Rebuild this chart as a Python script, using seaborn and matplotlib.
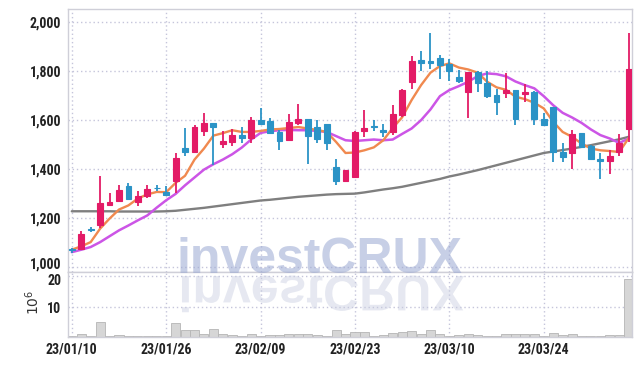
import matplotlib
matplotlib.use("Agg")
import matplotlib.pyplot as plt
import seaborn as sns
import numpy as np
import pandas as pd
from matplotlib.textpath import TextPath
from matplotlib.patches import PathPatch
from matplotlib.font_manager import FontProperties
from matplotlib.transforms import Affine2D, IdentityTransform, ScaledTranslation

# ---------------- data ----------------
dates = ["23/01/10", "23/01/11", "23/01/12", "23/01/13", "23/01/16", "23/01/17", "23/01/18",
         "23/01/19", "23/01/20", "23/01/25", "23/01/26", "23/01/27", "23/01/30", "23/01/31",
         "23/02/01", "23/02/02", "23/02/03", "23/02/06", "23/02/07", "23/02/08", "23/02/09",
         "23/02/10", "23/02/13", "23/02/14", "23/02/15", "23/02/16", "23/02/17", "23/02/20",
         "23/02/21", "23/02/22", "23/02/23", "23/02/24", "23/02/27", "23/02/28", "23/03/02",
         "23/03/03", "23/03/06", "23/03/07", "23/03/08", "23/03/09", "23/03/10", "23/03/13",
         "23/03/14", "23/03/15", "23/03/16", "23/03/17", "23/03/20", "23/03/21", "23/03/22",
         "23/03/23", "23/03/24", "23/03/27", "23/03/28", "23/03/29", "23/03/30", "23/03/31",
         "23/04/03", "23/04/04", "23/04/05", "23/04/06"]

open_ = [1070, 1073, 1153, 1169, 1251, 1266, 1328, 1264, 1288, 1321, 1305, 1350, 1486, 1469, 1555,
         1587, 1502, 1510, 1537, 1526, 1598, 1594, 1550, 1516, 1588, 1601, 1569, 1582, 1407, 1350,
         1366, 1554, 1573, 1558, 1550, 1618, 1755, 1843, 1839, 1850, 1826, 1773, 1714, 1794, 1750,
         1700, 1707, 1721, 1703, 1714, 1602, 1650, 1466, 1464, 1545, 1492, 1441, 1431, 1468, 1560]
high = [1075, 1144, 1160, 1369, 1302, 1333, 1343, 1308, 1333, 1332, 1328, 1462, 1568, 1580, 1628,
        1588, 1555, 1560, 1571, 1611, 1646, 1605, 1556, 1622, 1666, 1602, 1598, 1584, 1441, 1395,
        1555, 1639, 1598, 1584, 1662, 1725, 1861, 1881, 1952, 1864, 1846, 1802, 1796, 1800, 1800,
        1726, 1789, 1723, 1745, 1716, 1628, 1652, 1503, 1557, 1547, 1495, 1464, 1475, 1541, 1952]
low = [1055, 1068, 1140, 1159, 1247, 1262, 1276, 1248, 1279, 1310, 1290, 1302, 1452, 1466, 1533,
       1414, 1486, 1494, 1505, 1503, 1578, 1540, 1478, 1512, 1577, 1418, 1505, 1478, 1332, 1345,
       1362, 1530, 1554, 1530, 1537, 1612, 1724, 1798, 1809, 1768, 1759, 1748, 1605, 1714, 1690,
       1621, 1687, 1577, 1673, 1580, 1575, 1427, 1427, 1400, 1487, 1436, 1359, 1380, 1451, 1509]
close = [1066, 1132, 1150, 1260, 1264, 1312, 1277, 1290, 1316, 1319, 1294, 1445, 1469, 1570, 1586,
         1572, 1514, 1537, 1525, 1598, 1584, 1544, 1514, 1592, 1601, 1533, 1521, 1503, 1350, 1393,
         1550, 1568, 1571, 1550, 1622, 1721, 1839, 1833, 1833, 1823, 1800, 1759, 1794, 1751, 1697,
         1673, 1721, 1603, 1714, 1601, 1578, 1466, 1448, 1541, 1489, 1439, 1431, 1451, 1503, 1807]

ma_short = [1069, 1083, 1100, 1155, 1196, 1233, 1250, 1278, 1295, 1305, 1304, 1342, 1371, 1437, 1482,
            1535, 1545, 1557, 1550, 1550, 1554, 1560, 1562, 1566, 1570, 1564, 1558, 1550, 1509, 1464,
            1466, 1475, 1487, 1516, 1566, 1610, 1680, 1741, 1792, 1819, 1830, 1813, 1805, 1792, 1755,
            1732, 1722, 1694, 1684, 1669, 1646, 1591, 1550, 1530, 1503, 1482, 1475, 1472, 1468, 1525]
ma_mid = [1059, 1069, 1080, 1100, 1124, 1148, 1168, 1189, 1209, 1241, 1271, 1297, 1332, 1364, 1396,
          1418, 1437, 1459, 1486, 1519, 1546, 1553, 1557, 1558, 1557, 1557, 1554, 1550, 1533, 1516,
          1513, 1516, 1519, 1516, 1519, 1542, 1564, 1598, 1642, 1696, 1721, 1737, 1755, 1778, 1789,
          1786, 1777, 1756, 1741, 1728, 1696, 1659, 1628, 1609, 1587, 1560, 1537, 1523, 1505, 1523]
ma_long = [1226, 1226, 1226, 1226, 1226, 1225, 1225, 1225, 1225, 1225, 1226, 1228, 1232, 1236, 1240,
           1245, 1250, 1255, 1260, 1265, 1270, 1273, 1277, 1281, 1285, 1288, 1291, 1294, 1296, 1297,
           1298, 1303, 1309, 1315, 1320, 1326, 1334, 1342, 1350, 1358, 1368, 1376, 1385, 1394, 1404,
           1414, 1424, 1434, 1444, 1454, 1464, 1470, 1476, 1482, 1489, 1496, 1504, 1512, 1520, 1530]

volume = [0.8, 1.45, 0.8, 5.5, 0.9, 1.1, 0.8, 0.8, 0.8, 0.8, 0.9, 4.9, 2.7, 2.9, 1.7,
          3.3, 1.7, 1.1, 0.8, 1.45, 0.9, 1.1, 1.1, 1.45, 1.7, 1.45, 1.1, 0.9, 2.9, 1.45,
          2.2, 2.2, 0.8, 1.1, 1.9, 2.2, 2.5, 1.45, 2.9, 1.45, 0.8, 1.1, 1.45, 1.1, 0.8,
          0.8, 1.45, 1.45, 1.7, 1.45, 0.8, 2.0, 1.1, 1.45, 0.8, 0.8, 0.8, 1.1, 1.1, 19.2]

price_ticks = [1000, 1200, 1400, 1600, 1800, 2000]
volume_ticks = [10, 20]
xtick_idx = [0, 10, 20, 30, 40, 50]

# ---------------- style ----------------
sns.set_style("white")
plt.rcParams["font.family"] = ["DejaVu Sans"]
TICKFONT = ["Roboto Condensed", "Liberation Sans Narrow", "Liberation Sans", "DejaVu Sans"]

RED = "#e31b66"
BLUE = "#2b93c6"
GRID = "#c5c5db"
SPINE = "#cfcfd8"

fig = plt.figure(figsize=(6.42, 3.66), dpi=100)
W, H = 642.0, 366.0
L, R = 68.3, 632.3
ax = fig.add_axes([L / W, 1 - 272 / H, (R - L) / W, (272 - 9) / H])
axv = fig.add_axes([L / W, 1 - 337 / H, (R - L) / W, (337 - 272) / H], sharex=ax)

df = pd.DataFrame({"idx": np.arange(len(dates)), "date": dates, "open": open_, "high": high,
                   "low": low, "close": close, "ma_short": ma_short, "ma_mid": ma_mid,
                   "ma_long": ma_long, "volume": volume})

# grid
for a in (ax, axv):
    a.set_axisbelow(True)
    a.grid(True, color=GRID, linestyle=(0, (1, 2)), linewidth=1.0)
    for s in a.spines.values():
        s.set_color(SPINE)
        s.set_linewidth(1.0)

# moving averages
sns.lineplot(data=df, x="idx", y="ma_long", ax=ax, color="#7f7f7f", linewidth=1.7, zorder=2)
sns.lineplot(data=df, x="idx", y="ma_mid", ax=ax, color="#cc55e6", linewidth=1.8, zorder=3)
sns.lineplot(data=df, x="idx", y="ma_short", ax=ax, color="#f0894f", linewidth=1.7, zorder=3)

# candles
bw = 0.62
for i, r in df.iterrows():
    up = r["close"] >= r["open"]
    c = RED if up else BLUE
    ax.vlines(r["idx"], r["low"], r["high"], color=c, linewidth=1.3, zorder=4)
    lo = min(r["open"], r["close"])
    hgt = max(abs(r["close"] - r["open"]), 1.0)
    ax.bar(r["idx"], hgt, bottom=lo, width=bw, color=c, edgecolor=c, linewidth=0.8, zorder=5)

# volume
sns.barplot(data=df, x="idx", y="volume", ax=axv, color="#d6d6d6", edgecolor="#b5b5b5",
            linewidth=0.6, width=0.96, saturation=1, native_scale=True)

ax.set_xlim(-0.37, 59.38)
ax.set_ylim(978, 2052)
axv.set_ylim(0.6, 21.3)

ax.set_yticks(price_ticks)
ax.set_yticklabels([f"{v:,}" for v in price_ticks])
axv.set_yticks(volume_ticks)
axv.set_yticklabels([str(v) for v in volume_ticks])
axv.set_xticks(xtick_idx)
axv.set_xticklabels([dates[i] for i in xtick_idx])
ax.tick_params(axis="x", labelbottom=False, length=0)
ax.tick_params(axis="y", length=0, pad=5)
axv.tick_params(axis="y", length=0, pad=5)
axv.tick_params(axis="x", length=0, pad=4)
for lab in ax.get_yticklabels() + axv.get_yticklabels() + axv.get_xticklabels():
    lab.set_family(TICKFONT)
    lab.set_fontweight("bold")
    lab.set_fontsize(10)
    lab.set_color("#222222")

# nudge the two labels that meet at the panel boundary apart a little
up_lab = ax.get_yticklabels()[0]
up_lab.set_transform(up_lab.get_transform() + ScaledTranslation(0, 2.5 / 72, fig.dpi_scale_trans))
dn_lab = axv.get_yticklabels()[-1]
dn_lab.set_transform(dn_lab.get_transform() + ScaledTranslation(0, -2.5 / 72, fig.dpi_scale_trans))

ax.set_xlabel("")
ax.set_ylabel("")
axv.set_xlabel("")
axv.set_ylabel(r"$10^{6}$", fontsize=10, color="#333333", rotation=90)
axv.yaxis.set_label_coords(-0.047, 0.53)

# watermark and its reflection
wm_color = "#9aa8d2"
fig.text(177 / W, (H - 273) / H, "investCRUX", fontsize=36, fontweight="bold",
         family=["Liberation Sans", "DejaVu Sans"], color=wm_color, alpha=0.55,
         va="baseline", ha="left", zorder=10)
fp = FontProperties(family=["Liberation Sans", "DejaVu Sans"], weight="bold")
tp = TextPath((0, 0), "investCRUX", size=50, prop=fp)
tr = Affine2D().scale(1, -1).translate(177 + 1.5, H - 276) + IdentityTransform()
patch = PathPatch(tp, transform=tr, facecolor="#c8cde0", edgecolor="none", alpha=0.45, zorder=10)
fig.add_artist(patch)

fig.savefig("out.png", dpi=100, facecolor="white")
